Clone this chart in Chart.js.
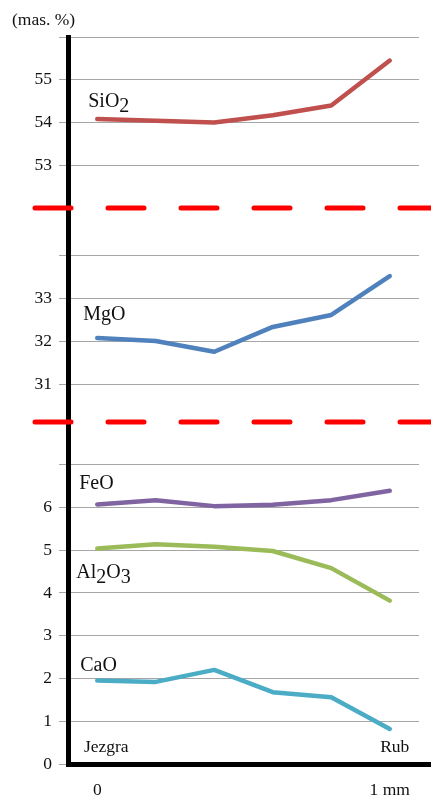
<!DOCTYPE html>
<html>
<head>
<meta charset="utf-8">
<script src="https://cdn.jsdelivr.net/npm/chart.js@4/dist/chart.umd.min.js"></script>
<style>
  html, body { margin: 0; padding: 0; background: #fff; }
  canvas { display: block; }
</style>
</head>
<body>
<canvas id="profile" width="431" height="796"></canvas>
<script>
// positions along the grain, core -> rim
const distance = ['0', '', '', '', '', '1 mm'];
const ends = ['Jezgra', 'Rub'];
const unitLabel = '(mas. %)';

// mas. %
const sio2 = [54.08, 54.04, 54.0, 54.17, 54.4, 55.45];
const mgo = [32.08, 32.01, 31.76, 32.34, 32.62, 33.53];
const feo = [6.07, 6.17, 6.03, 6.06, 6.17, 6.39];
const al2o3 = [5.04, 5.14, 5.08, 4.98, 4.58, 3.82];
const cao = [1.95, 1.92, 2.2, 1.68, 1.56, 0.82];

// y ticks of each panel (top tick of each panel has no label)
const lowTicks = [0, 1, 2, 3, 4, 5, 6, 7];
const midTicks = [31, 32, 33, 34];
const highTicks = [53, 54, 55, 56];

// broken axis: one scale 0..17, upper panels shifted down
const midShift = 22.12;
const highShift = 39;
const breaks = [8, 13];

const serif = "'Liberation Serif', 'Times New Roman', serif";

const tickValues = [];
const tickLabels = [];
[[lowTicks, 0], [midTicks, midShift], [highTicks, highShift]].forEach(([list, shift]) => {
    list.forEach((t, i) => {
        tickValues.push(t - shift);
        tickLabels.push(i === list.length - 1 ? '' : String(t));
    });
});

function line(label, values, shift, color) {
    return {
        label: label,
        data: values.map(v => v - shift),
        borderColor: color,
        borderWidth: 4.5,
        borderCapStyle: 'round',
        borderJoinStyle: 'round',
        pointRadius: 0,
        tension: 0,
        fill: false
    };
}

// label offsets from first point of each line (same order as datasets)
const labelPos = [[-9, -12], [-14, -18], [-18, -15], [-21, 30], [-17, -10]];

function drawFormula(ctx, text, x, y) {
    let cx = x;
    for (const ch of text) {
        const sub = /[0-9]/.test(ch);
        ctx.font = '20px ' + serif;
        ctx.fillText(ch, cx, sub ? y + 5 : y);
        cx += ctx.measureText(ch).width;
    }
}

const overlay = {
    id: 'overlay',
    afterDatasetsDraw(chart) {
        const ctx = chart.ctx;
        const a = chart.chartArea;
        const x = chart.scales.x;
        const y = chart.scales.y;
        ctx.save();

        // black axes
        ctx.strokeStyle = '#000';
        ctx.lineWidth = 5;
        ctx.beginPath();
        ctx.moveTo(a.left + 0.5, a.top - 2);
        ctx.lineTo(a.left + 0.5, a.bottom + 0.5);
        ctx.lineTo(chart.width, a.bottom + 0.5);
        ctx.stroke();

        // red dashed breaks
        ctx.strokeStyle = '#ff0000';
        ctx.lineCap = 'round';
        ctx.setLineDash([36, 37]);
        breaks.forEach(b => {
            const py = y.getPixelForValue(b);
            ctx.beginPath();
            ctx.moveTo(a.left - 33, py);
            ctx.lineTo(chart.width + 10, py);
            ctx.stroke();
        });
        ctx.setLineDash([]);

        // series names
        ctx.fillStyle = '#111';
        ctx.textAlign = 'left';
        ctx.textBaseline = 'alphabetic';
        chart.data.datasets.forEach((ds, i) => {
            const px = x.getPixelForValue(0) + labelPos[i][0];
            const py = y.getPixelForValue(ds.data[0]) + labelPos[i][1];
            drawFormula(ctx, ds.label, px, py);
        });

        // core / rim
        ctx.font = '17.5px ' + serif;
        ctx.textAlign = 'center';
        ctx.fillText(ends[0], x.getPixelForValue(0) + 9, a.bottom - 12);
        ctx.fillText(ends[1], x.getPixelForValue(distance.length - 1) + 5, a.bottom - 12);

        // unit
        ctx.textAlign = 'left';
        ctx.textBaseline = 'middle';
        ctx.fillText(unitLabel, 12, 20);
        ctx.restore();
    }
};

new Chart(document.getElementById('profile'), {
    type: 'line',
    data: {
        labels: distance,
        datasets: [
            line('SiO2', sio2, highShift, '#c0504d'),
            line('MgO', mgo, midShift, '#4f81bd'),
            line('FeO', feo, 0, '#8064a2'),
            line('Al2O3', al2o3, 0, '#9bbb59'),
            line('CaO', cao, 0, '#4bacc6')
        ]
    },
    options: {
        responsive: false,
        animation: false,
        devicePixelRatio: 1,
        layout: { padding: { top: 37, right: 12, left: 0, bottom: 0 } },
        plugins: { legend: { display: false }, tooltip: { enabled: false } },
        scales: {
            x: {
                offset: true,
                grid: { display: false, drawTicks: false },
                border: { display: false },
                ticks: {
                    color: '#111',
                    font: { family: serif, size: 17.5 },
                    padding: 16,
                    maxRotation: 0,
                    autoSkip: false
                },
                afterFit(scale) { scale.height = 32; }
            },
            y: {
                min: 0,
                max: 17,
                grid: { color: '#a6a6a6', lineWidth: 1, tickLength: 9 },
                border: { display: false },
                ticks: {
                    color: '#111',
                    padding: 7,
                    font: { family: serif, size: 17.5 },
                    callback: (v, i) => tickLabels[i]
                },
                afterBuildTicks(scale) {
                    scale.ticks = tickValues.map(v => ({ value: v }));
                },
                afterFit(scale) { scale.width = 68; }
            }
        }
    },
    plugins: [overlay]
});
</script>
</body>
</html>
